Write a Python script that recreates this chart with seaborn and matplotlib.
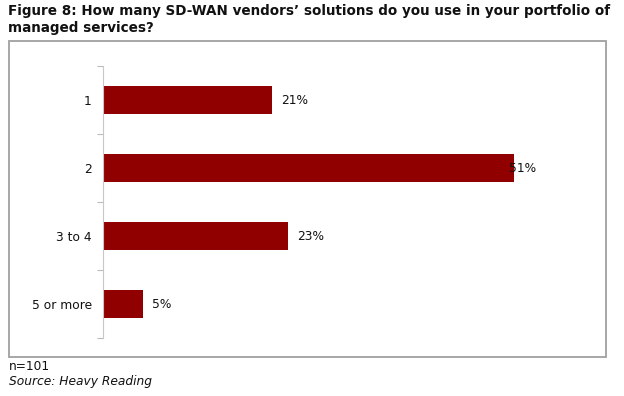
import matplotlib
matplotlib.use("Agg")
import matplotlib.pyplot as plt
import matplotlib.patches as mpatches
import seaborn as sns
import pandas as pd

categories = ["1", "2", "3 to 4", "5 or more"]
values = [21, 51, 23, 5]
value_labels = ["21%", "51%", "23%", "5%"]
label_offsets = [1.1, -0.6, 1.1, 1.1]

title = "Figure 8: How many SD-WAN vendors\u2019 solutions do you use in your portfolio of\nmanaged services?"
note_n = "n=101"
note_src = "Source: Heavy Reading"

sns.set_theme(style="white")
plt.rcParams['font.family'] = ['DejaVu Sans']

W, H = 624, 396
fig = plt.figure(figsize=(W / 100, H / 100), dpi=100)
ax = fig.add_axes([103 / W, (H - 338) / H, 496 / W, 272 / H])

df = pd.DataFrame({"cat": categories, "val": values})
sns.barplot(data=df, x="val", y="cat", ax=ax, color="#900000", saturation=1,
            width=0.42, orient="h", linewidth=0)

ax.set_xlim(0, 61.6)
ax.set_ylim(len(categories) - 0.5, -0.5)
ax.set_xlabel("")
ax.set_ylabel("")
ax.set_xticks([])

# boundary ticks (major) and category labels (minor)
ax.set_yticks([i - 0.5 for i in range(len(categories) + 1)])
ax.set_yticklabels([])
ax.set_yticks(range(len(categories)), minor=True)
ax.set_yticklabels(categories, minor=True)
ax.tick_params(axis="y", which="major", length=4, width=0.8, color="#bbbbbb", left=True)
ax.tick_params(axis="y", which="minor", length=0, pad=8, labelsize=8.8, labelcolor="#111111")

for s in ["top", "right", "bottom"]:
    ax.spines[s].set_visible(False)
ax.spines["left"].set_color("#c8c8c8")
ax.spines["left"].set_linewidth(0.8)

for i, (v, lab, off) in enumerate(zip(values, value_labels, label_offsets)):
    ax.text(v + off, i, lab, va="center", ha="left", fontsize=8.8, color="#111111")

# frame around chart
fig.patches.append(mpatches.Rectangle((9 / W, (H - 357) / H), 597 / W, 316 / H,
                                      transform=fig.transFigure, fill=False,
                                      edgecolor="#a0a0a0", linewidth=1.3))

fig.text(8 / W, 1 - 4 / H, title, ha="left", va="top", fontsize=9.75,
         fontweight="bold", color="#111111", linespacing=1.3)
fig.text(9 / W, 1 - 367 / H, note_n, ha="left", va="center", fontsize=8.8, color="#111111")
fig.text(9 / W, 1 - 382 / H, note_src, ha="left", va="center", fontsize=8.8,
         style="italic", color="#111111")

fig.savefig("out.png", dpi=100)
